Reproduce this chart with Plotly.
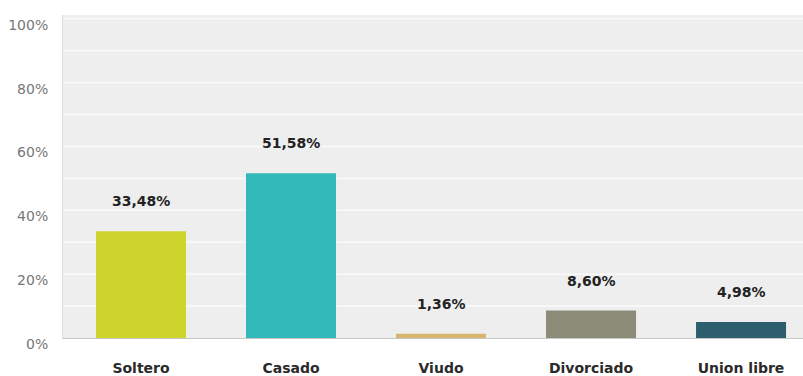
import plotly.graph_objects as go

categories = ["Soltero", "Casado", "Viudo", "Divorciado", "Union libre"]
values = [33.48, 51.58, 1.36, 8.60, 4.98]
bar_colors = ["#cdd42c", "#33b9b9", "#d8b56c", "#8b8b78", "#2c5e6e"]
y_ticks = [0, 20, 40, 60, 80, 100]


def fmt_pct(v):
    return f"{v:.2f}".replace(".", ",") + "%"


fig = go.Figure()
fig.add_trace(go.Bar(
    x=list(range(len(categories))),
    y=values,
    width=0.6,
    marker=dict(color=bar_colors, line=dict(width=0)),
    hoverinfo="skip",
))

# value labels floating above each bar
for i, v in enumerate(values):
    fig.add_annotation(
        x=i, y=v, text=fmt_pct(v), showarrow=False,
        yanchor="middle", yshift=30,
        font=dict(family="DejaVu Sans", size=14, color="#222222", weight="bold"),
    )

fig.update_layout(
    width=803, height=376,
    margin=dict(l=63, r=0, t=15, b=38),
    paper_bgcolor="white",
    plot_bgcolor="#eeeeee",
    showlegend=False,
    bargap=0.4,
)

fig.update_xaxes(
    range=[-0.52, 4.413],
    tickmode="array",
    tickvals=list(range(len(categories))),
    ticktext=categories,
    tickfont=dict(family="DejaVu Sans", size=14, color="#2a2a2a", weight="bold"),
    showgrid=False,
    showline=True, linecolor="#c8c8c8", linewidth=1,
    ticks="", ticklabelstandoff=17,
)

fig.update_yaxes(
    range=[0, 101.2],
    tickmode="array",
    tickvals=y_ticks,
    ticktext=[f"{t}%" for t in y_ticks],
    tickfont=dict(family="DejaVu Sans", size=14, color="#777777"),
    showgrid=False,
    zeroline=False,
    showline=True, linecolor="#dddddd", linewidth=1,
    ticks="", ticklabelstandoff=11, ticklabelshift=6,
)

# light 10% gridlines across the plot area
for g in range(10, 101, 10):
    fig.add_hline(y=g, line=dict(color="#fafafa", width=1.5), layer="below")

fig.write_html("out.html")
